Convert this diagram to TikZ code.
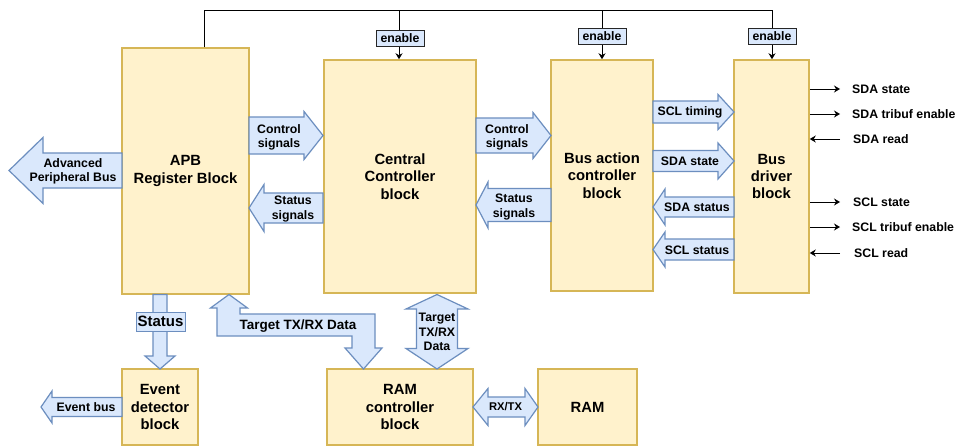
\documentclass[tikz,border=0pt]{standalone}
\usepackage{fontspec}
\setmainfont{Liberation Sans}
\usetikzlibrary{arrows.meta}
\definecolor{yfill}{HTML}{FFF2CC}
\definecolor{ydraw}{HTML}{D6B656}
\definecolor{bfill}{HTML}{DAE8FC}
\definecolor{bdraw}{HTML}{6C8EBF}
% right arrow: x1, x2(tip), y, body half, head half, head length
\newcommand{\rarr}[6]{\draw[barr] ({#1},{#3-#4}) -- ({#2-#6},{#3-#4}) -- ({#2-#6},{#3-#5}) -- ({#2},{#3}) -- ({#2-#6},{#3+#5}) -- ({#2-#6},{#3+#4}) -- ({#1},{#3+#4}) -- cycle;}
% left arrow: x1(tip), x2, y, body half, head half, head length
\newcommand{\larr}[6]{\draw[barr] ({#1},{#3}) -- ({#1+#6},{#3-#5}) -- ({#1+#6},{#3-#4}) -- ({#2},{#3-#4}) -- ({#2},{#3+#4}) -- ({#1+#6},{#3+#4}) -- ({#1+#6},{#3+#5}) -- cycle;}
% horizontal double arrow: x1, x2, y, b, h, L1, L2
\newcommand{\hdarr}[7]{\draw[barr] ({#1},{#3}) -- ({#1+#6},{#3-#5}) -- ({#1+#6},{#3-#4}) -- ({#2-#7},{#3-#4}) -- ({#2-#7},{#3-#5}) -- ({#2},{#3}) -- ({#2-#7},{#3+#5}) -- ({#2-#7},{#3+#4}) -- ({#1+#6},{#3+#4}) -- ({#1+#6},{#3+#5}) -- cycle;}
% vertical double arrow: x, y1, y2, b, h, L1, L2
\newcommand{\vdarr}[7]{\draw[barr] ({#1},{#2}) -- ({#1+#5},{#2+#6}) -- ({#1+#4},{#2+#6}) -- ({#1+#4},{#3-#7}) -- ({#1+#5},{#3-#7}) -- ({#1},{#3}) -- ({#1-#5},{#3-#7}) -- ({#1-#4},{#3-#7}) -- ({#1-#4},{#2+#6}) -- ({#1-#5},{#2+#6}) -- cycle;}
% down arrow: x, y1, y2(tip), b, h, L
\newcommand{\darr}[6]{\draw[barr] ({#1-#4},{#2}) -- ({#1+#4},{#2}) -- ({#1+#4},{#3-#6}) -- ({#1+#5},{#3-#6}) -- ({#1},{#3}) -- ({#1-#5},{#3-#6}) -- ({#1-#4},{#3-#6}) -- cycle;}
% block node: name, x1, y1, x2, y2, text
\newcommand{\blk}[6]{\node[blk, minimum width={#4-#2}, minimum height={#5-#3}] (#1) at ({(#2+#4)/2},{(#3+#5)/2}) {#6};}
\tikzset{
  blk/.style={draw=ydraw, fill=yfill, line width=1.5pt, inner sep=0pt, align=center,
    font=\bfseries\fontsize{14.8}{17.3}\selectfont},
  barr/.style={draw=bdraw, fill=bfill, line width=1.2pt, line join=miter},
  lbl/.style={inner sep=0pt, align=center, font=\bfseries\fontsize{12.3}{14.3}\selectfont},
  iol/.style={inner sep=0pt, anchor=west, font=\bfseries\fontsize{12.3}{14.3}\selectfont},
  wire/.style={draw=black, line width=1pt},
  tip/.style={-{Stealth[length=6pt,width=7pt]}},
  enbox/.style={draw=black!85, fill=bfill, line width=1pt, inner sep=0pt,
    minimum width=48pt, minimum height=16pt, font=\bfseries\fontsize{12.3}{14.3}\selectfont},
}
\begin{document}
\begin{tikzpicture}[x=1pt,y=-1pt]
\useasboundingbox (0,0) rectangle (966,447);
\fill[white] (0,0) rectangle (966,447);

% blocks
\blk{apb}{122}{48}{249}{294}{APB\\Register Block}
\blk{central}{324}{60}{476}{293}{Central\\Controller\\block}
\blk{busact}{551}{60}{653}{291}{Bus action\\controller\\block}
\blk{driver}{734}{60}{809}{293}{Bus\\driver\\block}
\blk{event}{122}{369}{198}{445}{Event\\detector\\block}
\blk{ramc}{327}{369}{473}{445}{RAM\\controller\\block}
\blk{ram}{538}{369}{637}{445}{RAM}

% enable wiring
\coordinate (w0) at (204,10);
\coordinate (w1) at (399,10);
\coordinate (w2) at (602,10);
\coordinate (w3) at (772,10);
\draw[wire] (w0 |- apb.north) -- (w0) -- (w3);
\draw[wire,tip] (w1) -- (w1 |- central.north);
\draw[wire,tip] (w2) -- (w2 |- busact.north);
\draw[wire,tip] (w3) -- (w3 |- driver.north);
\node[enbox] (en1) at (400,38) {enable};
\node[enbox] (en2) at (602,36) {enable};
\node[enbox] (en3) at (772,36) {enable};

% block arrows between APB and central
\rarr{249}{323}{135.5}{18.5}{24}{19}
\node[lbl] (l1) at (279,137) {Control\\signals};
\larr{249}{323}{208}{15}{23.5}{15}
\node[lbl] (l2) at (293,209) {Status\\signals};
% APB to left bus
\larr{9}{122}{170.5}{17.5}{33}{34}
\node[lbl] (l3) at (73,171) {Advanced\\Peripheral Bus};

% central <-> bus action
\rarr{476}{551}{135.5}{17.5}{23}{18}
\node[lbl] (l4) at (507,137) {Control\\signals};
\larr{476}{551}{205}{16.5}{23}{12}
\node[lbl] (l5) at (514,207) {Status\\signals};

% bus action <-> driver
\rarr{653}{734}{112}{11}{17.5}{16}
\node[lbl] (l6) at (690,112) {SCL timing};
\rarr{653}{734}{161}{10.5}{18}{16}
\node[lbl] (l7) at (690,161) {SDA state};
\larr{653}{734}{207}{10}{18}{12}
\node[lbl] (l8) at (697,207) {SDA status};
\larr{653}{734}{249.5}{10.5}{17.5}{12}
\node[lbl] (l9) at (697,250) {SCL status};

% driver I/O
\node[iol] (o1) at (852,89) {SDA state};
\node[iol] (o2) at (852,114) {SDA tribuf enable};
\node[iol] (o3) at (853,139) {SDA read};
\node[iol] (o4) at (853,202) {SCL state};
\node[iol] (o5) at (852,227) {SCL tribuf enable};
\node[iol] (o6) at (854,253) {SCL read};
\draw[wire,tip] (driver.east |- o1) -- ([xshift=-12pt]o1.west);
\draw[wire,tip] (driver.east |- o2) -- ([xshift=-12pt]o2.west);
\draw[wire,tip] ([xshift=-13pt]o3.west) -- (driver.east |- o3);
\draw[wire,tip] (driver.east |- o4) -- ([xshift=-13pt]o4.west);
\draw[wire,tip] (driver.east |- o5) -- ([xshift=-12pt]o5.west);
\draw[wire,tip] ([xshift=-14pt]o6.west) -- (driver.east |- o6);

% status down to event detector
\darr{160}{294.5}{369}{7}{15}{13}
\node[lbl, draw=bdraw, fill=bfill, line width=1pt, minimum width=49pt, minimum height=19pt,
  font=\bfseries\fontsize{15}{17}\selectfont] (l10) at (160.5,321.5) {Status};
% event bus
\larr{41}{122}{407}{9.5}{16}{11}
\node[lbl] (l11) at (86,407) {Event bus};

% elbow Target TX/RX Data
\draw[barr] (229,294.5) -- (247.5,308) -- (240,308) -- (240,314) -- (375,314) -- (375,348)
  -- (382,348) -- (363.5,369) -- (345,348) -- (352,348) -- (352,336) -- (217,336)
  -- (217,308) -- (210.5,308) -- cycle;
\node[lbl, font=\bfseries\fontsize{13.5}{15}\selectfont] (l12) at (298,326) {Target TX/RX Data};

% central <-> RAM controller
\vdarr{437}{294.5}{369}{20.5}{31}{14.5}{20.5}
\node[lbl] (l13) at (437,332) {Target\\TX/RX\\Data};

% RAM controller <-> RAM
\hdarr{473}{538}{407}{10}{18.5}{15}{13}
\node[lbl, font=\bfseries\fontsize{11.2}{13}\selectfont] (l14) at (505.5,407) {RX/TX};
\end{tikzpicture}
\end{document}
